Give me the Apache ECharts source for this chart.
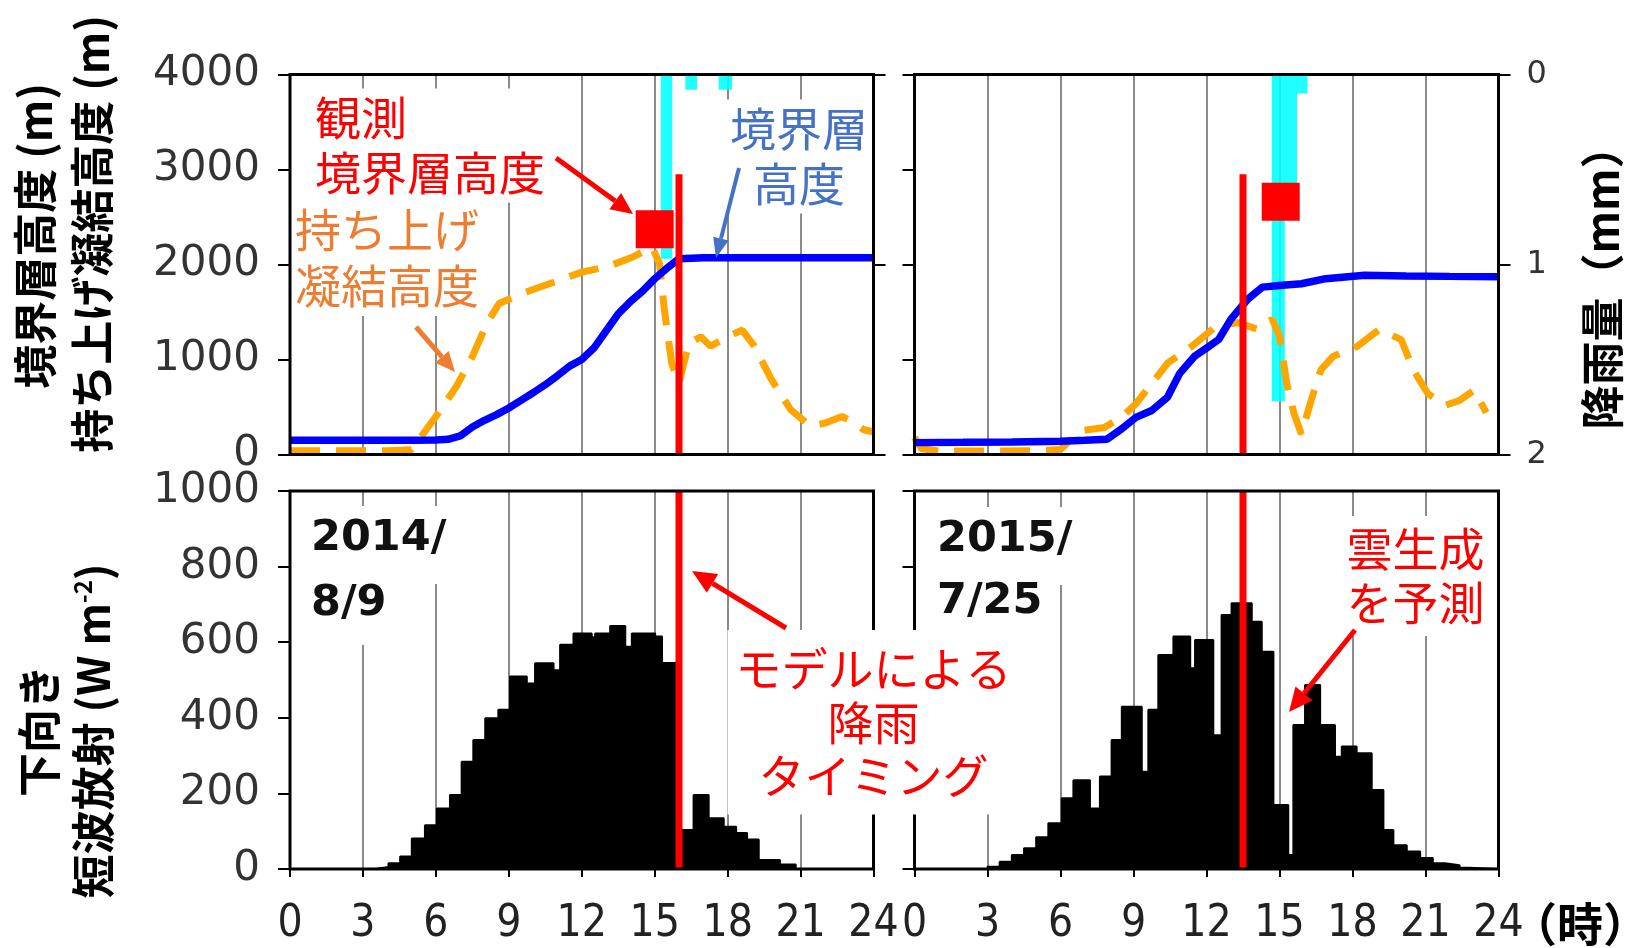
<!DOCTYPE html>
<html>
<head>
<meta charset="utf-8">
<script src="https://cdn.jsdelivr.net/npm/echarts@6/dist/echarts.min.js"></script>
<style>
  html, body { margin: 0; padding: 0; background: #fff; }
  #chart { width: 1639px; height: 948px; }
</style>
</head>
<body>
<div id="chart"></div>
<script>
// ---- 2014/8/9 ----
// 境界層高度 (モデル)
var blTime1 = [0, 1, 2, 3, 4, 5, 6, 6.5, 7, 7.5, 8, 8.5, 9, 9.5, 10, 10.5, 11, 11.5, 12, 12.5, 13, 13.5, 14, 14.5, 15, 15.5, 16, 17, 18, 19, 20, 21, 22, 23, 24];
var blHeight1 = [150, 150, 150, 150, 150, 150, 152, 160, 195, 290, 360, 420, 490, 570, 650, 735, 830, 930, 1000, 1120, 1300, 1480, 1610, 1720, 1850, 1960, 2060, 2070, 2070, 2070, 2070, 2070, 2070, 2070, 2070];
// 持ち上げ凝結高度
var lclTime1 = [0, 2, 4, 5, 5.6, 6.2, 6.85, 7.5, 8.1, 8.6, 9.6, 10.7, 12, 13.1, 14.1, 14.9, 15.2, 15.4, 15.7, 16, 16.4, 16.9, 17.3, 18, 18.6, 19.1, 19.8, 20.6, 21.4, 22, 22.7, 23.1, 23.6, 24];
var lclHeight1 = [40, 40, 40, 50, 260, 470, 720, 1030, 1380, 1590, 1700, 1800, 1920, 1980, 2080, 2180, 2010, 1520, 960, 750, 1170, 1240, 1140, 1240, 1310, 1140, 790, 470, 300, 330, 400, 350, 260, 240];
// 降雨量 (mm) 階段状
var rainTime1 = [0, 15.25, 15.72, 16.26, 16.74, 17.63, 18.18, 24];
var rainMm1 = [0, 0.97, 0, 0.08, 0, 0.08, 0, 0];
// 下向き短波放射 (階段状, 値はその時刻から次の時刻まで)
var swTime1 = [0, 3.5, 4.05, 4.53, 5.01, 5.55, 6.04, 6.58, 7.06, 7.54, 8.03, 8.57, 9.05, 9.74, 10.08, 10.84, 11.11, 11.66, 12.41, 12.55, 13.17, 13.79, 14.06, 15.02, 15.3, 16.0, 16.6, 17.22, 17.84, 18.35, 18.8, 19.28, 20.15, 20.8, 24];
var swFlux1 = [0, 5, 15, 33, 81, 116, 160, 196, 284, 341, 399, 421, 509, 491, 544, 526, 593, 623, 613, 623, 643, 588, 623, 615, 545, 103, 196, 134, 112, 95, 78, 24, 12, 0, 0];

// ---- 2015/7/25 ----
var blTime2 = [0, 2, 4, 6, 7, 7.9, 8.5, 9.1, 9.75, 10.4, 10.9, 11.5, 12, 12.5, 13, 13.7, 14.3, 15, 15.9, 16.9, 18.5, 20.2, 22, 24];
var blHeight2 = [125, 128, 132, 140, 150, 160, 267, 391, 463, 605, 854, 1032, 1120, 1210, 1423, 1637, 1762, 1779, 1797, 1851, 1886, 1880, 1875, 1870];
var lclTime2 = [0, 0.3, 1, 3, 5, 6, 6.8, 7.8, 8.5, 9.1, 9.75, 10.4, 11.4, 12.4, 13.3, 14.1, 14.7, 15, 15.3, 15.6, 15.9, 16.3, 16.7, 17.2, 18.2, 19.1, 20, 20.5, 21.1, 21.8, 22.4, 23, 23.5];
var lclHeight2 = [180, 60, 36, 36, 40, 53, 249, 285, 391, 534, 747, 961, 1139, 1352, 1388, 1317, 1423, 1246, 747, 427, 214, 569, 890, 1032, 1139, 1317, 1210, 890, 641, 516, 569, 676, 440];
var rainTime2 = [0, 14.68, 15.22, 15.72, 16.15, 24];
var rainMm2 = [0, 1.72, 0.7, 0.1, 0, 0];
var swTime2 = [0, 3.0, 3.5, 4.0, 4.5, 5.0, 5.5, 6.05, 6.53, 7.21, 7.62, 8.10, 8.52, 9.34, 9.61, 10.02, 10.64, 11.33, 11.53, 12.28, 12.62, 13.03, 13.86, 14.27, 14.75, 15.36, 15.57, 16.05, 16.67, 17.28, 17.56, 18.17, 18.79, 19.27, 19.68, 20.23, 20.78, 21.3, 21.8, 22.4, 22.8, 24];
var swFlux2 = [0, 6, 19, 37, 55, 84, 121, 187, 235, 160, 245, 341, 429, 257, 421, 566, 615, 531, 606, 354, 672, 703, 654, 575, 169, 37, 381, 487, 381, 297, 324, 306, 209, 103, 63, 46, 29, 15, 10, 3, 0, 0];

// 観測境界層高度 (左, 右)
var obsTime = [15.0, 15.05];
var obsHeight = [2370, 2660];
// モデルによる降雨タイミング (左, 右)
var modelRainTime = [16.0, 13.5];
var modelRainTop = 2950;

var tickFont = 'DejaVu Sans';
var xTickFont = '"DejaVu Sans Condensed", "Liberation Sans Narrow", "DejaVu Sans"';
var jpFont = '"Noto Sans CJK JP"';

function pairs(t, v) {
  return t.map(function (x, i) { return [x, v[i]]; });
}

// パネル配置 [left, top, width, height]
var panels = [
  [290, 74.5, 583.5, 380],
  [914.5, 74.5, 584, 380],
  [290, 491, 583.5, 378],
  [914.5, 491, 584, 378]
];

var tickStyle = { show: true, inside: false, length: 12, lineStyle: { color: '#000', width: 2 } };

function xAxisFor(i, withLabel) {
  return {
    type: 'value', gridIndex: i, min: 0, max: 24, interval: 3,
    axisLine: { show: false },
    axisTick: withLabel ? { show: true, inside: false, length: 8, lineStyle: { color: '#000', width: 2 } } : { show: false },
    axisLabel: { show: withLabel, fontFamily: xTickFont, fontSize: 44, color: '#222', margin: 34 },
    splitLine: { show: true, showMinLine: false, showMaxLine: false, lineStyle: { color: '#8a8a8a', width: 2 } }
  };
}

function yAxisFor(i, min, max, interval, pos, withLabel, inverse, fontSize, margin) {
  return {
    type: 'value', gridIndex: i, min: min, max: max, interval: interval, position: pos, inverse: !!inverse,
    axisLine: { show: false },
    axisTick: tickStyle,
    axisLabel: {
      show: withLabel, fontFamily: tickFont, fontSize: fontSize || 42, color: '#333', margin: margin || 30,
      formatter: function (v) { return String(v); }
    },
    splitLine: { show: false }
  };
}

function arrow(x1, y1, x2, y2, color, w, hl, hw) {
  var a = Math.atan2(y2 - y1, x2 - x1);
  var bx = x2 - hl * Math.cos(a), by = y2 - hl * Math.sin(a);
  var px = -Math.sin(a) * hw / 2, py = Math.cos(a) * hw / 2;
  return [
    { type: 'line', z: 120, shape: { x1: x1, y1: y1, x2: bx, y2: by }, style: { stroke: color, lineWidth: w } },
    { type: 'polygon', z: 120, shape: { points: [[x2, y2], [bx + px, by + py], [bx - px, by - py]] }, style: { fill: color } }
  ];
}

function boxText(x, y, text, font, color, align, lineHeight, padding) {
  return {
    type: 'text', x: x, y: y, z: 110,
    style: {
      text: text, font: font, fill: color, align: align, verticalAlign: 'top',
      lineHeight: lineHeight, backgroundColor: '#fff', padding: padding
    }
  };
}

function rotText(x, y, text, rich) {
  return {
    type: 'text', x: x, y: y, z: 110, rotation: Math.PI / 2,
    style: {
      text: text, fontFamily: jpFont, fontSize: 44, fontWeight: 'bold', fill: '#000',
      align: 'center', verticalAlign: 'middle', rich: rich
    }
  };
}

var series = [];
[0, 1].forEach(function (k) {
  var rainT = k === 0 ? rainTime1 : rainTime2;
  var rainV = k === 0 ? rainMm1 : rainMm2;
  var lclT = k === 0 ? lclTime1 : lclTime2;
  var lclV = k === 0 ? lclHeight1 : lclHeight2;
  var blT = k === 0 ? blTime1 : blTime2;
  var blV = k === 0 ? blHeight1 : blHeight2;
  var swT = k === 0 ? swTime1 : swTime2;
  var swV = k === 0 ? swFlux1 : swFlux2;

  // 降雨量 (上から下向き)
  series.push({
    type: 'line', xAxisIndex: k, yAxisIndex: 2 * k + 1, step: 'end', symbol: 'none', z: 1,
    data: pairs(rainT, rainV),
    lineStyle: { width: 0, color: '#00ffff' },
    areaStyle: { color: '#00ffff', opacity: 0.88 }
  });
  // 持ち上げ凝結高度
  series.push({
    type: 'line', xAxisIndex: k, yAxisIndex: 2 * k, symbol: 'none', z: 3,
    data: pairs(lclT, lclV),
    lineStyle: { color: '#ffa500', width: 7, type: [30, 16] }
  });
  // 境界層高度
  series.push({
    type: 'line', xAxisIndex: k, yAxisIndex: 2 * k, symbol: 'none', z: 4,
    data: pairs(blT, blV),
    lineStyle: { color: '#0000ff', width: 7.5 }
  });
  // 観測境界層高度
  series.push({
    type: 'scatter', xAxisIndex: k, yAxisIndex: 2 * k, symbol: 'rect', symbolSize: 38, z: 5,
    data: [[obsTime[k], obsHeight[k]]],
    itemStyle: { color: '#ff0000', opacity: 1 }
  });
  // モデルによる降雨タイミング (上段)
  series.push({
    type: 'line', xAxisIndex: k, yAxisIndex: 2 * k, symbol: 'none', z: 6,
    data: [[modelRainTime[k], 0], [modelRainTime[k], modelRainTop]],
    lineStyle: { color: '#ff0000', width: 7 }
  });
  // 下向き短波放射
  series.push({
    type: 'line', xAxisIndex: k + 2, yAxisIndex: k + 4, step: 'end', symbol: 'none', z: 3,
    data: pairs(swT, swV),
    lineStyle: { color: '#000', width: 2 },
    areaStyle: { color: '#000', opacity: 1 }
  });
  // モデルによる降雨タイミング (下段)
  series.push({
    type: 'line', xAxisIndex: k + 2, yAxisIndex: k + 4, symbol: 'none', z: 6,
    data: [[modelRainTime[k], 0], [modelRainTime[k], 1000]],
    lineStyle: { color: '#ff0000', width: 7 }
  });
});

var graphics = [
  // 軸タイトル
  rotText(35, 236, '境界層高度 (m)'),
  rotText(92, 234, '持ち上げ凝結高度 (m)'),
  rotText(39, 731, '下向き'),
  rotText(93, 731, '短波放射 (W m{sup|-2})', {
    sup: { fontFamily: jpFont, fontSize: 24, fontWeight: 'bold', verticalAlign: 'top', padding: [0, 0, 18, 0] }
  }),
  rotText(1602, 277, '降雨量（mm）'),
  {
    type: 'text', x: 1580, y: 924, z: 110,
    style: { text: '（時）', fontFamily: jpFont, fontSize: 46, fontWeight: 'bold', fill: '#000', align: 'center', verticalAlign: 'middle' }
  },
  // 注記
  boxText(311, 88.5, '観測\n境界層高度', '46px ' + jpFont, '#ff0000', 'left', 55, [2, 4, 2, 4]),
  boxText(293, 200, '持ち上げ\n凝結高度', '46px ' + jpFont, '#ed7d31', 'left', 56, [2, 4, 2, 2]),
  boxText(799, 99.5, '境界層\n高度', '46px ' + jpFont, '#4472c4', 'center', 55, [2, 4, 2, 4]),
  boxText(307, 506, '2014/', 'bold 43px "DejaVu Sans"', '#111', 'left', 50, [8, 6, 20, 4]),
  boxText(307, 575, '8/9', 'bold 43px "DejaVu Sans"', '#111', 'left', 50, [4, 6, 16, 4]),
  boxText(933, 507, '2015/', 'bold 43px "DejaVu Sans"', '#111', 'left', 50, [8, 6, 20, 4]),
  boxText(933, 573, '7/25', 'bold 43px "DejaVu Sans"', '#111', 'left', 50, [4, 6, 16, 4]),
  boxText(873.5, 630, 'モデルによる\n降雨\nタイミング', '46px ' + jpFont, '#ff0000', 'center', 53.5, [12, 8, 12, 8]),
  boxText(1415.5, 516, '雲生成\nを予測', '46px ' + jpFont, '#ff0000', 'center', 54, [6, 6, 6, 6])
];
graphics = graphics
  .concat(arrow(556, 158, 633, 214, '#ff0000', 5, 22, 20))
  .concat(arrow(739, 168, 716, 258, '#4472c4', 4, 20, 16))
  .concat(arrow(416, 327, 455, 372, '#ed7d31', 5, 20, 18))
  .concat(arrow(786, 628, 692, 571, '#ff0000', 5, 24, 22))
  .concat(arrow(1355, 630, 1289, 712, '#ff0000', 5, 24, 22));

var chart = echarts.init(document.getElementById('chart'), null, { renderer: 'canvas' });
chart.setOption({
  animation: false,
  backgroundColor: '#fff',
  grid: panels.map(function (p) {
    return {
      left: p[0], top: p[1], width: p[2], height: p[3],
      show: true, borderColor: '#000', borderWidth: 3, backgroundColor: 'rgba(0,0,0,0)', z: 8
    };
  }),
  xAxis: [xAxisFor(0, false), xAxisFor(1, false), xAxisFor(2, true), xAxisFor(3, true)],
  yAxis: [
    yAxisFor(0, 0, 4000, 1000, 'left', true),
    yAxisFor(0, 0, 2, 1, 'right', false, true),
    yAxisFor(1, 0, 4000, 1000, 'left', false),
    yAxisFor(1, 0, 2, 1, 'right', true, true, 32, 28),
    yAxisFor(2, 0, 1000, 200, 'left', true),
    yAxisFor(3, 0, 1000, 200, 'left', false)
  ],
  series: series,
  graphic: graphics
});
</script>
</body>
</html>
